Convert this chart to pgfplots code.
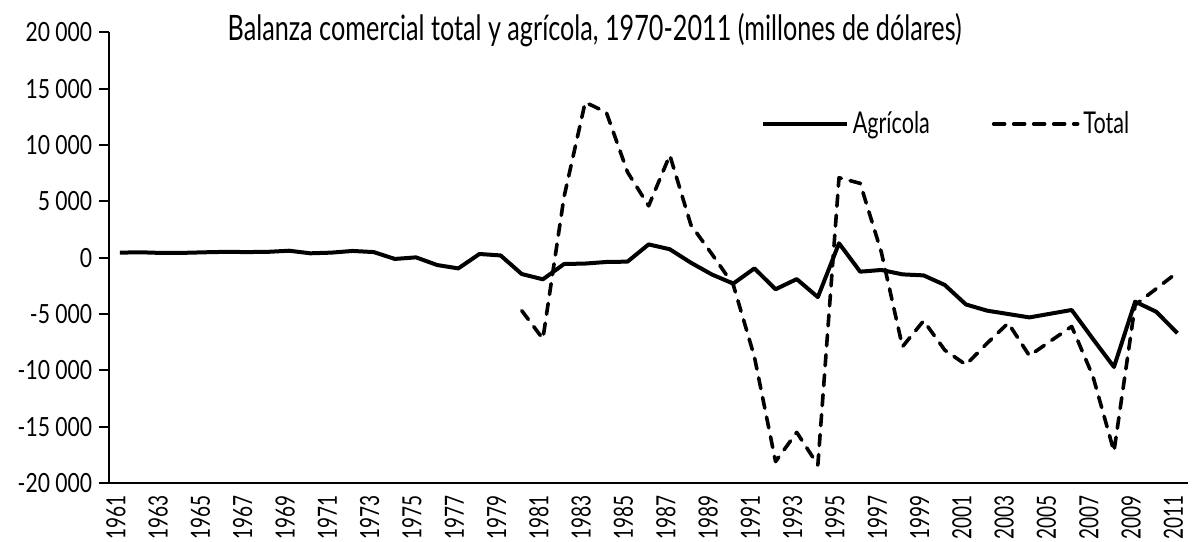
\documentclass[border=0pt]{standalone}
\usepackage{fontspec}
\setmainfont{Lato}
\newfontfamily\tfont[FakeStretch=0.72]{Lato}
\newfontfamily\nfont[FakeStretch=0.8]{Lato}
\usepackage{pgfplots}
\pgfplotsset{compat=1.18}

\begin{document}
\begin{tikzpicture}

\begin{axis}[
  width=539.35pt,
  height=225.3pt,
  scale only axis,
  clip=false,
  xmin=1960.5, xmax=2011.5,
  ymin=-20000, ymax=20000,
  axis lines=left,
  axis line style={-, line width=1pt},
  tick align=outside,
  major tick length=5pt,
  minor tick length=5pt,
  tick style={line width=1pt, black},
  scaled y ticks=false,
  xtick={1961,1963,...,2011},
  xticklabels={1961,1963,1965,1967,1969,1971,1973,1975,1977,1979,1981,1983,1985,1987,1989,1991,1993,1995,1997,1999,2001,2003,2005,2007,2009,2011},
  minor xtick={1960.5,1962.5,...,2010.5},
  xtick style={draw=none},
  x tick label style={rotate=90, anchor=east, inner sep=1pt, yshift=2pt, font=\tfont\fontsize{13.2}{14}\selectfont},
  ytick={-20000,-15000,...,20000},
  yticklabels={-20 000,-15 000,-10 000,-5 000,0,5 000,10 000,15 000,20 000},
  y tick label style={font=\nfont\fontsize{13.2}{14}\selectfont},
  legend columns=2,
  legend style={draw=none, fill=none, at={(rel axis cs:0.598,0.797)}, anchor=west,
    font=\tfont\fontsize{15}{16}\selectfont,
    /tikz/every even column/.append style={column sep=29pt}},
  legend image code/.code={\draw[#1] (0pt,0pt) -- (42pt,0pt);},
]

% Agricola
\addplot[black, line width=2pt, line join=round, mark=none] coordinates {
(1961,450) (1962,480) (1963,420) (1964,430) (1965,480) (1966,520) (1967,500)
(1968,520) (1969,620) (1970,390) (1971,450) (1972,600) (1973,500) (1974,-110)
(1975,30) (1976,-650) (1977,-950) (1978,330) (1979,200) (1980,-1450) (1981,-1920)
(1982,-560) (1983,-520) (1984,-380) (1985,-350) (1986,1180) (1987,750) (1988,-450)
(1989,-1500) (1990,-2300) (1991,-950) (1992,-2800) (1993,-1900) (1994,-3500)
(1995,1280) (1996,-1240) (1997,-1090) (1998,-1480) (1999,-1570) (2000,-2420)
(2001,-4150) (2002,-4700) (2003,-5000) (2004,-5300) (2005,-4970) (2006,-4640)
(2007,-7200) (2008,-9700) (2009,-3900) (2010,-4800) (2011,-6700)};
\addlegendentry{Agrícola}

% Total
\addplot[black, line width=1.8pt, line cap=round, line join=round, dash pattern=on 5.5pt off 4.5pt, mark=none] coordinates {
(1980,-4700) (1981,-7200) (1982,5400) (1983,13800) (1984,12900) (1985,7600)
(1986,4600) (1987,9100) (1988,2900) (1989,300) (1990,-2400) (1991,-8800)
(1992,-18100) (1993,-15500) (1994,-18400) (1995,7100) (1996,6600) (1997,500)
(1998,-7900) (1999,-5600) (2000,-8200) (2001,-9500) (2002,-7600) (2003,-5800)
(2004,-8700) (2005,-7400) (2006,-6100) (2007,-10500) (2008,-17200) (2009,-4200)
(2010,-2750) (2011,-1300)};
\addlegendentry{Total}

\node[anchor=base, font=\tfont\fontsize{17.5}{19}\selectfont] at (rel axis cs:0.450,0.983)
  {Balanza comercial total y agrícola, 1970-2011 (millones de dólares)};

\coordinate (bl) at (rel axis cs:0,0);
\coordinate (tr) at (rel axis cs:1,1);
\end{axis}

\pgfresetboundingbox
\path[use as bounding box] ([shift={(-54.65pt,-29pt)}]bl) rectangle ([shift={(4.5pt,16.2pt)}]tr);

\end{tikzpicture}
\end{document}
